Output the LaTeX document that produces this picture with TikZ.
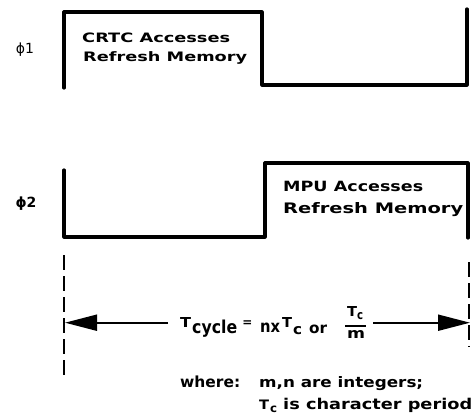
\documentclass[tikz,border=0pt]{standalone}
\usepackage{fontspec}
\usepackage{graphicx}
\usetikzlibrary{arrows.meta}
\newfontfamily\lbl{DejaVu Sans}[BoldFont=* Bold]
\newcommand\fitt[3]{\resizebox{#1pt}{#2pt}{\lbl\bfseries #3}}
\begin{document}
\begin{tikzpicture}[x=1pt,y=-1pt,
  wave/.style={line width=3.2pt, line join=round, line cap=round},
  guide/.style={line width=2.4pt, dash pattern=on 15pt off 6pt},
  dim/.style={line width=2pt, -{Triangle[length=32pt,width=16pt]}},
  txt/.style={inner sep=0pt, anchor=base west},
  phi/.style={inner sep=0pt, font=\lbl\fontsize{14}{14}\selectfont}]
\useasboundingbox (0,0) rectangle (473,414);
% waveforms
\draw[wave] (64,88) -- (64,12) -- (262,12) -- (262,85) -- (467,85) -- (467,9);
\draw[wave] (64,170) -- (64,237) -- (265,237) -- (265,163) -- (468,163) -- (468,238);
% labels
\node[phi] (p1) at (25,50) {ϕ1};
\node[phi] (p2) at (26,204) {\bfseries ϕ2};
\node[txt] (crtc) at (82,42.5) {\fitt{148}{9.6}{CRTC Accesses}};
\node[txt] (rm1) at (83,61.7) {\fitt{164}{9.9}{Refresh Memory}};
\node[txt] (mpu) at (283,191.7) {\fitt{140}{10.3}{MPU Accesses}};
\node[txt] (rm2) at (283,213) {\fitt{180}{11}{Refresh Memory}};
% guides
\coordinate (gl1) at (64,255); \coordinate (gl2) at (64,378);
\coordinate (gr1) at (469,262); \coordinate (gr2) at (469,347);
\draw[guide] (gl1) -- (gl2);
\draw[guide] (gr1) -- (gr2);
% dimension arrow
\coordinate (al) at (65,322.7); \coordinate (alin) at (168,322.7);
\coordinate (ar) at (470,322.7); \coordinate (arin) at (373,322.7);
\draw[dim] (alin) -- (al);
\draw[dim] (arin) -- (ar);
% equation
\node[txt] (t1) at (180,327) {\fitt{11}{10}{T}};
\node[txt] (cyc) at (192,333) {\fitt{45}{13.5}{cycle}};
\node[inner sep=0pt] (eq) at (247.5,323.5) {\lbl\bfseries\fontsize{12}{12}\selectfont =};
\node[txt] (nx) at (260,332) {\fitt{20}{9.5}{nx}};
\node[txt] (t2) at (282,327) {\fitt{10}{10}{T}};
\node[txt] (c2) at (293,334) {\fitt{9}{8}{c}};
\node[txt] (or) at (309,333) {\fitt{18}{8.5}{or}};
\node[txt] (t3) at (347,316) {\fitt{10}{10}{T}};
\node[txt] (c3) at (357,319) {\fitt{6}{7}{c}};
\coordinate (fb1) at (345,326); \coordinate (fb2) at (366,326);
\draw[line width=1.2pt] (fb1) -- (fb2);
\node[txt] (m) at (347,338) {\fitt{18}{8}{m}};
% footnote
\node[txt] (wh) at (180,387.5) {\fitt{60}{11.6}{where:}};
\node[txt] (mn) at (259,387.5) {\fitt{164}{11}{m,n are integers;}};
\node[txt] (t4) at (259,409) {\fitt{10}{9.5}{T}};
\node[txt] (c4) at (270,412) {\fitt{7}{6.5}{c}};
\node[txt] (isc) at (283,409) {\fitt{189}{11.3}{is character period}};
\end{tikzpicture}
\end{document}
